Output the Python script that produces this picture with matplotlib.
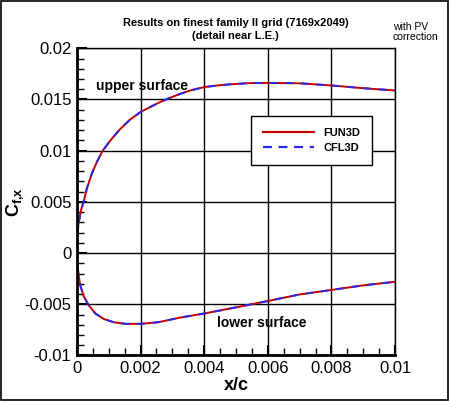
import matplotlib
matplotlib.use("Agg")
import matplotlib.pyplot as plt
from matplotlib.patches import Rectangle

plt.rcParams['font.family'] = ['Liberation Sans', 'DejaVu Sans']
plt.rcParams['mathtext.fontset'] = 'custom'
plt.rcParams['mathtext.bf'] = 'Liberation Sans:bold'
plt.rcParams['mathtext.rm'] = 'Liberation Sans'

# upper surface Cf,x
x_upper = [0.0, 0.0, 0.00005, 0.000126, 0.00021, 0.00031, 0.00047, 0.00063, 0.00081,
           0.00104, 0.00135, 0.00167, 0.002, 0.0023, 0.00261, 0.00292, 0.00324, 0.00355,
           0.004, 0.0045, 0.005, 0.00543, 0.006, 0.007, 0.008, 0.009, 0.01]
cf_upper = [0.0, 0.0011, 0.00288, 0.00418, 0.005, 0.0063, 0.00778, 0.00892, 0.0100,
            0.01096, 0.01208, 0.01304, 0.01378, 0.01426, 0.01474, 0.01516, 0.01554, 0.01587,
            0.01621, 0.0164, 0.01652, 0.0166, 0.01662, 0.01658, 0.01637, 0.0161, 0.01588]

# lower surface Cf,x
x_lower = [0.0, 0.0, 0.00002, 0.00005, 0.0001, 0.00021, 0.00037, 0.00058, 0.00084,
           0.00115, 0.00152, 0.002, 0.00256, 0.00324, 0.004, 0.005, 0.006, 0.007,
           0.008, 0.009, 0.01]
cf_lower = [0.0, -0.00054, -0.0012, -0.00213, -0.0031, -0.0042, -0.0051, -0.0059, -0.00643,
            -0.00675, -0.00691, -0.00691, -0.00675, -0.0063, -0.0059, -0.0053, -0.00468,
            -0.00404, -0.0036, -0.00315, -0.0028]

x_ticks = [0, 0.002, 0.004, 0.006, 0.008, 0.01]
x_tick_labels = ['0', '0.002', '0.004', '0.006', '0.008', '0.01']
y_ticks = [-0.01, -0.005, 0, 0.005, 0.01, 0.015, 0.02]
y_tick_labels = ['-0.01', '-0.005', '0', '0.005', '0.01', '0.015', '0.02']

red = '#c80000'
blue = '#2828e6'

fig = plt.figure(figsize=(4.5, 4.01), dpi=100)
ax = fig.add_axes([0.171, 0.1135, 0.707, 0.7661])

for xs, ys in [(x_upper, cf_upper), (x_lower, cf_lower)]:
    ax.plot(xs, ys, color=red, lw=1.4, solid_joinstyle='round')
    ax.plot(xs, ys, color=blue, lw=1.4, dashes=(4, 4))

# legend proxies
l1, = ax.plot([], [], color=red, lw=1.6)
l2, = ax.plot([], [], color=blue, lw=1.6, dashes=(4, 3))
leg = ax.legend([l1, l2], ['FUN3D', 'CFL3D'], loc='upper left', bbox_to_anchor=(0.547, 0.78),
                frameon=True, fancybox=False, edgecolor='black', framealpha=1,
                prop={'weight': 'bold', 'size': 8}, handlelength=4.6,
                borderpad=1.1, labelspacing=0.45, handletextpad=0.8, borderaxespad=0)
leg.get_frame().set_linewidth(1.0)

ax.set_xlim(0, 0.01)
ax.set_ylim(-0.01, 0.02)
ax.set_xticks(x_ticks)
ax.set_xticklabels(x_tick_labels)
ax.set_xticks([i * 0.0005 for i in range(21)], minor=True)
ax.set_yticks(y_ticks)
ax.set_yticklabels(y_tick_labels)
ax.set_yticks([-0.01 + i * 0.001 for i in range(31)], minor=True)
ax.tick_params(which='both', direction='in', top=False, right=False, labelsize=12, pad=4)
ax.tick_params(which='major', length=7, width=1.5)
ax.tick_params(which='minor', length=5, width=1)
ax.grid(True, which='major', color='black', lw=1)
for side in ['left', 'bottom']:
    ax.spines[side].set_linewidth(2)
for side in ['top', 'right']:
    ax.spines[side].set_linewidth(1)

ax.set_xlabel('x/c', fontsize=13, fontweight='bold', labelpad=1)
ax.set_ylabel(r'$\mathbf{C}_{\mathbf{f{,}x}}$', fontsize=13, va='center')
ax.yaxis.set_label_coords(-0.195, 0.5)

ax.text(0.0006, 0.0163, 'upper surface', fontsize=10, fontweight='bold', va='center')
ax.text(0.0044, -0.0068, 'lower surface', fontsize=10, fontweight='bold', va='center')

fig.text(0.524, 0.926, 'Results on finest family II grid (7169x2049)\n(detail near L.E.)',
         ha='center', va='center', fontsize=8, fontweight='bold', linespacing=1.45)
fig.text(0.873, 0.92, 'with PV\ncorrection', ha='left', va='center', fontsize=7.5,
         linespacing=1.0)

fig.patches.append(Rectangle((0.002, 0.003), 0.994, 0.994, transform=fig.transFigure,
                             fill=False, edgecolor='black', lw=1.2))

fig.savefig('out.png', dpi=100)
